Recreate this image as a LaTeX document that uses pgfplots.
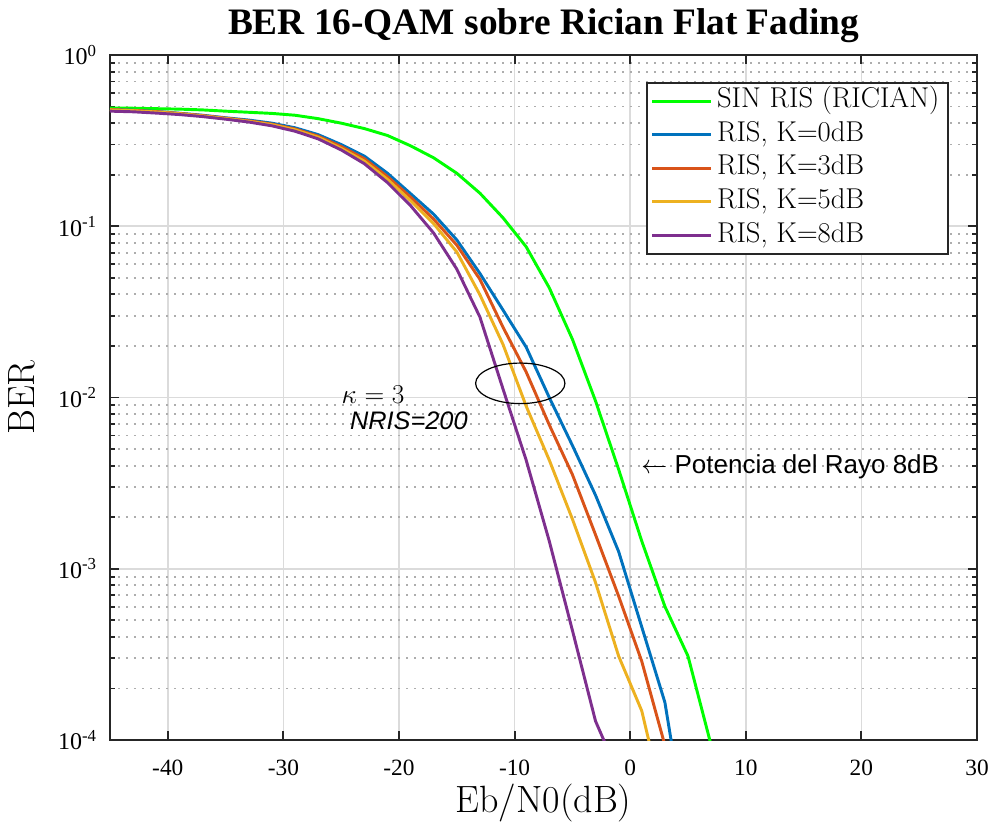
\RequirePackage{fix-cm}
\documentclass[border=0pt]{standalone}
\usepackage{fontspec}
\usepackage{pgfplots}
\pgfplotsset{compat=1.18}
\newfontfamily\timesfont{Liberation Serif}
\newfontfamily\arialfont{Liberation Sans}
\definecolor{cgreen}{rgb}{0,1,0}
\definecolor{cblue}{rgb}{0,0.447,0.741}
\definecolor{corange}{rgb}{0.85,0.325,0.098}
\definecolor{cyellow}{rgb}{0.929,0.694,0.125}
\definecolor{cpurple}{rgb}{0.494,0.184,0.556}
\definecolor{axgray}{rgb}{0.15,0.15,0.15}
\begin{document}
\begin{tikzpicture}
\begin{axis}[
  scale only axis, width=650.25pt, height=513.75pt,
  ymode=log, xmin=-45, xmax=30, ymin=1e-4, ymax=1,
  xtick={-40,-30,-20,-10,0,10,20,30},
  xticklabels={-40,-30,-20,-10,0,10,20,30},
  ytick={1e-4,1e-3,1e-2,1e-1,1},
  yticklabels={10\textsuperscript{-4},10\textsuperscript{-3},10\textsuperscript{-2},10\textsuperscript{-1},10\textsuperscript{0}},
  xticklabel style={font=\timesfont\fontsize{17.5}{20}\selectfont, anchor=north, inner sep=0pt, yshift=-15pt},
  yticklabel style={font=\timesfont\fontsize{18}{20}\selectfont, anchor=east, inner sep=0pt, xshift=-9.75pt},
  grid=both,
  major grid style={solid, line width=1.3pt, color=black!14},
  minor grid style={line width=1.4pt, color=black!32, dash pattern=on 1.4pt off 4.6pt},
  axis line style={line width=2pt, axgray},
  major tick length=6.5pt, minor tick length=3.8pt,
  every tick/.style={line width=1.4pt, axgray},
  tick align=inside,
  title={BER 16-QAM sobre Rician Flat Fading},
  title style={font=\timesfont\bfseries\fontsize{28}{32}\selectfont, at={(axis description cs:0.5,1)}, anchor=base, yshift=9.75pt, inner sep=0pt},
  xlabel={Eb/N0(dB)},
  ylabel={BER},
  every axis x label/.style={at={(axis description cs:0.5,0)}, anchor=base, yshift=-54.5pt, inner sep=0pt, font=\fontsize{28.5}{32}\selectfont},
  every axis y label/.style={at={(axis description cs:0,0.5)}, xshift=-56.25pt, rotate=90, anchor=base, inner sep=0pt, font=\fontsize{28.5}{32}\selectfont},
  every axis plot/.append style={line width=2.2pt},
  legend style={at={(axis description cs:0.9677,0.9606)}, anchor=north east, draw=axgray, line width=1.5pt, fill=white,
    font=\fontsize{21.5}{25}\selectfont, inner xsep=3pt, inner ysep=1pt, row sep=0pt,
    nodes={text height=14.5pt, text depth=4.5pt, inner ysep=3.1pt, inner xsep=3.5pt}},
  legend cell align=left,
  legend image code/.code={\draw[#1] (0pt,0pt) -- (44pt,0pt);},
]
\addplot[cgreen] coordinates {
(-45,0.490) (-43,0.489) (-41,0.486) (-39,0.483) (-37,0.478) (-35,0.470) (-33,0.463) (-31,0.456)
(-29,0.445) (-27,0.425) (-25,0.400) (-23,0.372) (-21,0.339) (-19,0.295) (-17,0.251) (-15,0.204)
(-13,0.156) (-11,0.112) (-9,0.0759) (-7,0.0437) (-5,0.0219) (-3,0.00955) (-1,0.00380) (1,0.00145)
(3,6.03e-4) (5,3.09e-4) (7,9.33e-5)};
\addlegendentry{SIN RIS (RICIAN)}
\addplot[cblue] coordinates {
(-45,0.480) (-43,0.476) (-41,0.468) (-39,0.457) (-37,0.445) (-35,0.430) (-33,0.417) (-31,0.400)
(-29,0.376) (-27,0.343) (-25,0.300) (-23,0.257) (-21,0.204) (-19,0.155) (-17,0.1175) (-15,0.0832)
(-13,0.0530) (-11,0.0324) (-9,0.0197) (-7,0.0100) (-5,0.00525) (-3,0.00269) (-1,0.00126) (1,4.57e-4)
(3,1.66e-4) (5,2.5e-5)};
\addlegendentry{RIS, K=0dB}
\addplot[corange] coordinates {
(-45,0.480) (-43,0.475) (-41,0.467) (-39,0.456) (-37,0.443) (-35,0.428) (-33,0.413) (-31,0.395)
(-29,0.370) (-27,0.336) (-25,0.292) (-23,0.248) (-21,0.195) (-19,0.148) (-17,0.110) (-15,0.0776)
(-13,0.0490) (-11,0.0257) (-9,0.0141) (-7,0.00692) (-5,0.00355) (-3,0.00158) (-1,6.92e-4) (1,2.88e-4)
(3,9.33e-5)};
\addlegendentry{RIS, K=3dB}
\addplot[cyellow] coordinates {
(-45,0.478) (-43,0.473) (-41,0.465) (-39,0.454) (-37,0.441) (-35,0.426) (-33,0.410) (-31,0.392)
(-29,0.366) (-27,0.331) (-25,0.285) (-23,0.240) (-21,0.188) (-19,0.141) (-17,0.1035) (-15,0.0708)
(-13,0.0398) (-11,0.0204) (-9,0.00891) (-7,0.00431) (-5,0.00195) (-3,8.32e-4) (-1,3.09e-4) (1,1.48e-4)
(3,3.98e-5)};
\addlegendentry{RIS, K=5dB}
\addplot[cpurple] coordinates {
(-45,0.470) (-43,0.466) (-41,0.458) (-39,0.449) (-37,0.437) (-35,0.422) (-33,0.406) (-31,0.386)
(-29,0.359) (-27,0.324) (-25,0.279) (-23,0.232) (-21,0.180) (-19,0.132) (-17,0.0912) (-15,0.0562)
(-13,0.0295) (-11,0.0112) (-9,0.00431) (-7,0.00145) (-5,4.37e-4) (-3,1.29e-4) (-1,6.31e-5)};
\addlegendentry{RIS, K=8dB}
\draw[line width=0.9pt, black] (axis cs:-9.51,0.0121) ellipse [x radius=33.5pt, y radius=15.2pt];
\node[anchor=base west, inner sep=0pt, font=\fontsize{20.5}{24}\selectfont] at (axis cs:-24.98,0.00925) {$\kappa = 3$};
\node[anchor=base west, inner sep=0pt, font=\arialfont\itshape\fontsize{19}{22}\selectfont] at (axis cs:-24.26,0.00652) {NRIS=200};
\node[anchor=base west, inner sep=0pt, font=\arialfont\fontsize{19.5}{23}\selectfont] at (axis cs:0.94,0.00362) {$\leftarrow$ Potencia del Rayo 8dB};
\end{axis}
\pgfresetboundingbox
\path ([xshift=-82.5pt, yshift=-62.25pt]current axis.south west) rectangle ([xshift=11.25pt, yshift=41.25pt]current axis.north east);
\end{tikzpicture}
\end{document}
